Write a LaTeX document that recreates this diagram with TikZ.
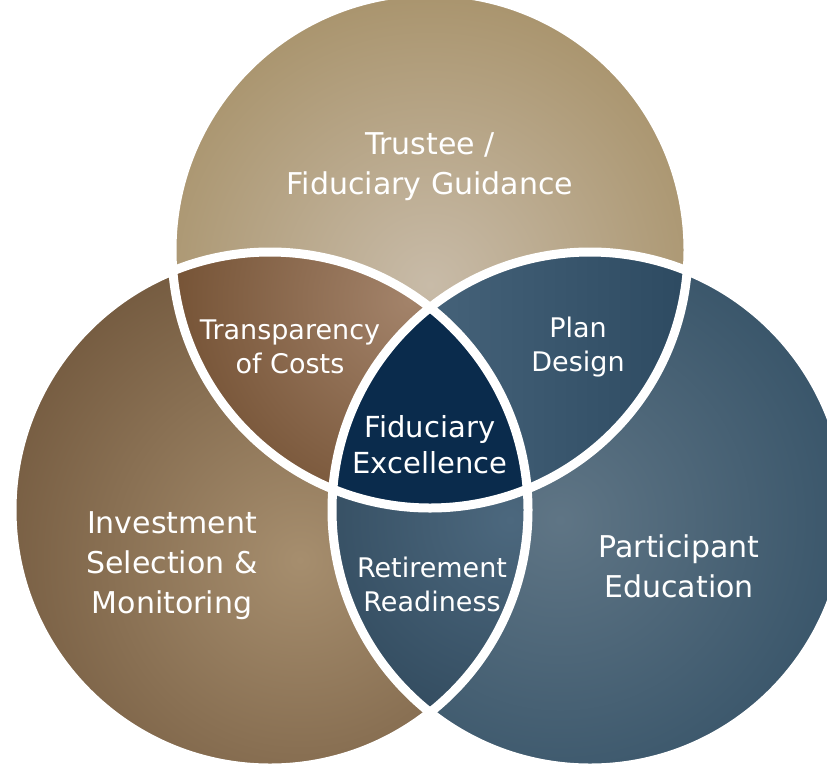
\documentclass[tikz,border=0pt]{standalone}
\usepackage{fontspec}
\setmainfont{DejaVu Sans}
\definecolor{tanout}{HTML}{9E8658}
\definecolor{tanin}{HTML}{C8BBA8}
\definecolor{brownout}{HTML}{6C5238}
\definecolor{brownin}{HTML}{A68E6E}
\definecolor{slateout}{HTML}{2E4C62}
\definecolor{slatein}{HTML}{5F7585}
\definecolor{costout}{HTML}{6E4B2D}
\definecolor{costin}{HTML}{A3836A}
\definecolor{planleft}{HTML}{46637A}
\definecolor{planright}{HTML}{2C4960}
\definecolor{readyout}{HTML}{22394B}
\definecolor{readyin}{HTML}{4C687E}
\definecolor{core}{HTML}{0A2B4C}
\begin{document}
\begin{tikzpicture}[x=1pt, y=-1pt, line join=round, line cap=round,
    lbl/.style={text=white, align=center, font=\fontsize{30}{40}\selectfont},
    smalllbl/.style={lbl, font=\fontsize{27}{34}\selectfont},
    ring/.style={draw=white, line width=9pt}]
\useasboundingbox (0,0) rectangle (827,766);
\def\rad{258}
\coordinate (top) at (430,250);
\coordinate (left) at (270,510);
\coordinate (right) at (590,510);
% the three circles
\begin{scope}
  \clip (top) circle (\rad);
  \shade[inner color=tanin, outer color=tanout] (430,285) circle (400);
\end{scope}
\begin{scope}
  \clip (left) circle (\rad);
  \shade[inner color=brownin, outer color=brownout] (300,560) circle (380);
\end{scope}
\begin{scope}
  \clip (right) circle (\rad);
  \shade[inner color=slatein, outer color=slateout] (560,520) circle (380);
\end{scope}
% overlaps
\begin{scope}
  \clip (top) circle (\rad);
  \clip (left) circle (\rad);
  \shade[inner color=costin, outer color=costout] (410,300) circle (280);
\end{scope}
\begin{scope}
  \clip (top) circle (\rad);
  \clip (right) circle (\rad);
  \shade[left color=planleft, right color=planright] (420,250) rectangle (700,520);
\end{scope}
\begin{scope}
  \clip (left) circle (\rad);
  \clip (right) circle (\rad);
  \shade[inner color=readyin, outer color=readyout] (510,520) circle (360);
\end{scope}
\begin{scope}
  \clip (top) circle (\rad);
  \clip (left) circle (\rad);
  \fill[core] (right) circle (\rad);
\end{scope}
% white rims
\foreach \c in {top,left,right}
  \draw[ring] (\c) circle (\rad);
% labels
\node[lbl] (trustee) at (430,167) {Trustee /\\Fiduciary Guidance};
\node[smalllbl] (costs) at (290,347) {Transparency\\of Costs};
\node[smalllbl] (plan) at (578,347) {Plan\\Design};
\node[lbl, font=\fontsize{29}{36}\selectfont] (excel) at (430,445) {Fiduciary\\Excellence};
\node[lbl] (invest) at (172,566) {Investment\\Selection \&\\Monitoring};
\node[lbl] (educ) at (679,566) {Participant\\Education};
\node[smalllbl] (ready) at (432,584) {Retirement\\Readiness};
\end{tikzpicture}
\end{document}
